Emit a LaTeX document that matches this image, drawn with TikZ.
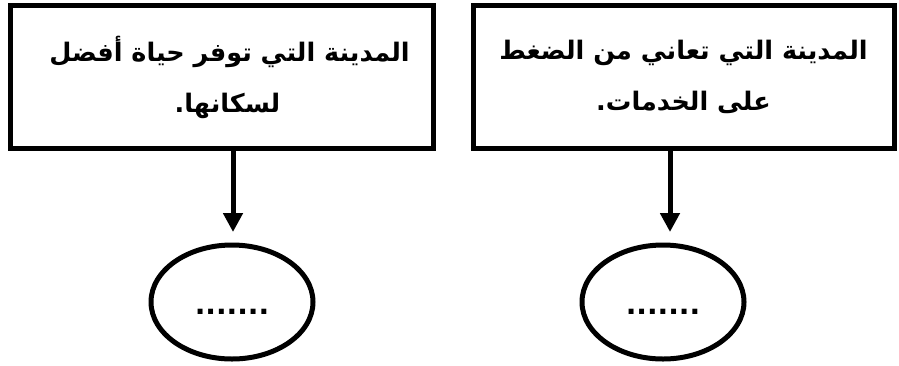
\documentclass[tikz,border=0pt]{standalone}
\usepackage{fontspec}
\usetikzlibrary{shapes.geometric,arrows.meta}
\TeXXeTstate=1
\newfontfamily\arabicfont[Script=Arabic]{DejaVu Sans}
\tikzset{
  boxnode/.style={draw=black, line width=5pt, rectangle, minimum height=143pt, inner sep=0pt, align=center,
    font=\arabicfont\bfseries\fontsize{25.5}{51}\selectfont},
  ovalnode/.style={draw=black, line width=5pt, ellipse, minimum width=162pt, minimum height=114pt, inner sep=0pt},
  dotsnode/.style={inner sep=0pt, font=\arabicfont\bfseries\fontsize{28}{28}\selectfont},
  arr/.style={line width=5pt, -{Triangle[width=19pt,length=19pt]}}
}
\begin{document}
\begin{tikzpicture}[x=1pt,y=-1pt]
\useasboundingbox (0,0) rectangle (899,365);
\node[boxnode, minimum width=423pt] (lb) at (221.5,77) {\hspace*{16pt}\beginR المدينة التي توفر حياة أفضل\endR\\\hspace*{12pt}\beginR لسكانها.\endR};
\node[boxnode, minimum width=421pt] (rb) at (683.5,77) {\beginR المدينة التي تعاني من الضغط\endR\\\beginR على الخدمات.\endR};
\node[ovalnode] (le) at (232,302) {};
\node[ovalnode] (re) at (663,302) {};
\node[dotsnode] (ld) at (232,312) {.......};
\node[dotsnode] (rd) at (663,312) {.......};
\coordinate (a1) at (233,232);
\coordinate (a2) at (670,232);
\draw[arr] (lb.south -| a1) -- (a1);
\draw[arr] (rb.south -| a2) -- (a2);
\end{tikzpicture}
\end{document}
